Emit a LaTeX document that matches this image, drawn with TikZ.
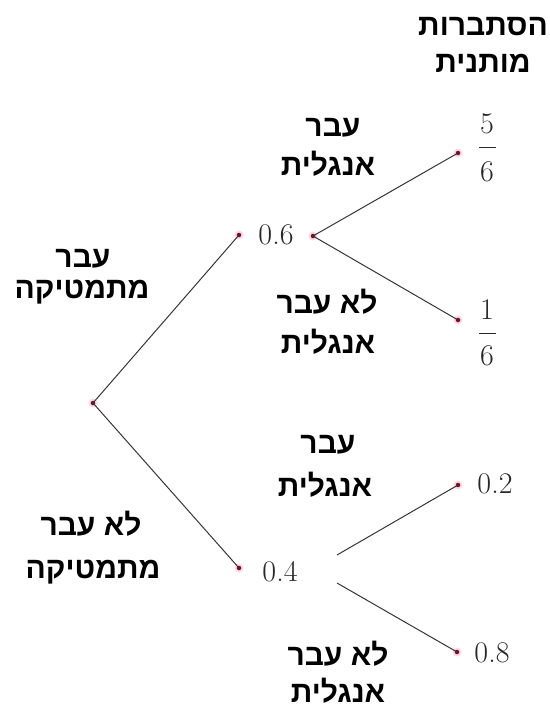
\documentclass[tikz,border=0pt]{standalone}
\usepackage{fontspec}
\newfontfamily\hebfont[Script=Hebrew]{Liberation Sans}
\TeXXeTstate=1
\newcommand{\hb}[1]{\beginR #1\endR}
\definecolor{dotred}{RGB}{125,10,40}
\definecolor{halo}{RGB}{250,215,225}
\definecolor{linegray}{RGB}{55,55,55}
\definecolor{numgray}{RGB}{40,40,40}
\tikzset{
  heb/.style={font=\hebfont\bfseries\fontsize{30}{36}\selectfont, inner sep=0pt, anchor=base, text=black},
  num/.style={font=\fontsize{30}{36}\selectfont, inner sep=0pt, text=numgray},
  dotnode/.style={circle, inner sep=0pt, minimum size=4.5pt, fill=dotred,
    preaction={draw=halo, line width=4pt}},
  edge/.style={draw=linegray, line width=1pt},
  fracbar/.style={draw=numgray, line width=0.9pt}
}
\begin{document}
\begin{tikzpicture}[x=1pt,y=-1pt]
\useasboundingbox (0,0) rectangle (549,707);
\fill[white] (0,0) rectangle (549,707);

% title
\node[heb] (t1) at (483,35) {\hb{הסתברות}};
\node[heb] (t2) at (483,72) {\hb{מותנית}};

% tree points
\node[dotnode] (root) at (93,403) {};
\node[dotnode] (a) at (239,235) {};
\node[dotnode] (a2) at (313,236) {};
\node[dotnode] (c) at (458,153) {};
\node[dotnode] (d) at (458,320) {};
\node[dotnode] (b) at (239,568) {};
\coordinate (e1) at (337,555);
\coordinate (e2) at (337,583);
\node[dotnode] (f) at (458,485) {};
\node[dotnode] (g) at (457,652) {};

% edges
\draw[edge] (root.center) -- (a.center);
\draw[edge] (root.center) -- (b.center);
\draw[edge] (a2.center) -- (c.center);
\draw[edge] (a2.center) -- (d.center);
\draw[edge] (e1) -- (f.center);
\draw[edge] (e2) -- (g.center);

% numbers
\node[num] (p06) at (276,235) {0.6};
\node[num] (p04) at (280,572) {0.4};
\node[num] (p02) at (495,484) {0.2};
\node[num] (p08) at (492,653) {0.8};

% fractions
\node[num] (f1n) at (487,124) {5};
\node[num] (f1d) at (487,172) {6};
\draw[fracbar] (479,147) -- (496,147);
\node[num] (f2n) at (487,310) {1};
\node[num] (f2d) at (487,356) {6};
\draw[fracbar] (479,333) -- (496,333);

% left labels
\node[heb] (um1) at (83,267) {\hb{עבר}};
\node[heb] (um2) at (82,298) {\hb{מתמטיקה}};
\node[heb] (lm1) at (91,535) {\hb{לא עבר}};
\node[heb] (lm2) at (93,578) {\hb{מתמטיקה}};

% upper english labels
\node[heb] (ue1) at (333,136) {\hb{עבר}};
\node[heb] (ue2) at (328,175) {\hb{אנגלית}};
\node[heb] (uf1) at (327,313) {\hb{לא עבר}};
\node[heb] (uf2) at (328,353) {\hb{אנגלית}};

% lower english labels
\node[heb] (le1) at (328,453) {\hb{עבר}};
\node[heb] (le2) at (325,496) {\hb{אנגלית}};
\node[heb] (lf1) at (338,665) {\hb{לא עבר}};
\node[heb] (lf2) at (338,702) {\hb{אנגלית}};
\end{tikzpicture}
\end{document}
